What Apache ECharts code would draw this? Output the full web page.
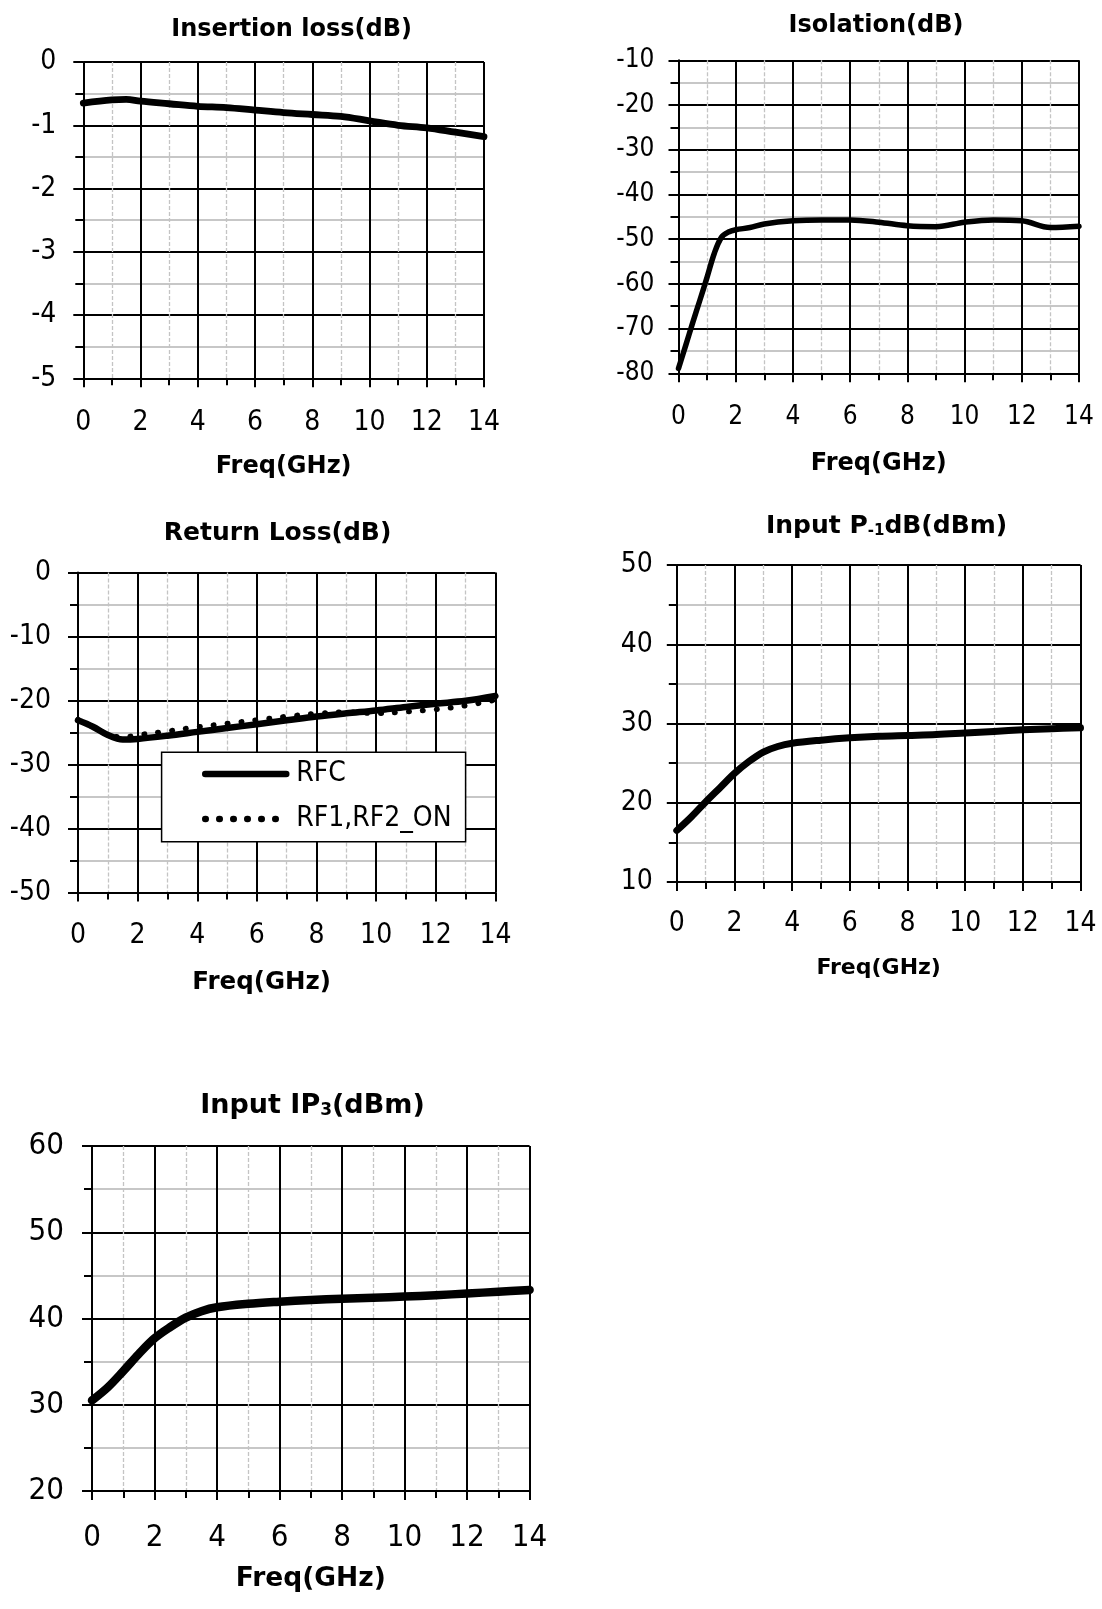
<!DOCTYPE html>
<html>
<head>
<meta charset="utf-8">
<script src="https://cdn.jsdelivr.net/npm/echarts@6/dist/echarts.min.js"></script>
<style>
html,body{margin:0;padding:0;background:#fff;}
#c{width:1102px;height:1609px;}
</style>
</head>
<body>
<div id="c"></div>
<script>
// ---------------- data ----------------
const freqTicks = [0, 2, 4, 6, 8, 10, 12, 14];

const ilTicks = [-5, -4, -3, -2, -1, 0];
const ilFreq = [0, 1, 1.5, 2, 3, 4, 5, 6, 7, 8, 9, 10, 11, 12, 13, 14];
const insertionLoss = [-0.65, -0.60, -0.59, -0.62, -0.66, -0.70, -0.72, -0.76, -0.80, -0.83, -0.86, -0.93, -1.00, -1.04, -1.11, -1.18];

const isoTicks = [-80, -70, -60, -50, -40, -30, -20, -10];
const isoFreq = [0, 0.25, 0.5, 0.75, 1, 1.25, 1.5, 1.75, 2, 2.5, 3, 4, 5, 6, 7, 8, 9, 10, 11, 12, 13, 14];
const isolation = [-78.9, -73.8, -68.6, -63.6, -58.5, -53.2, -49.6, -48.4, -47.9, -47.4, -46.6, -45.9, -45.7, -45.7, -46.2, -47.0, -47.2, -46.2, -45.7, -45.9, -47.4, -47.1];

const rlTicks = [-50, -40, -30, -20, -10, 0];
const rlFreq = [0, 0.5, 1, 1.5, 2, 3, 4, 5, 6, 7, 8, 9, 10, 11, 12, 13, 14];
const rlRFC = [-23.1, -24.1, -25.4, -26.1, -26.0, -25.5, -24.9, -24.3, -23.7, -23.1, -22.5, -22.0, -21.55, -21.0, -20.5, -20.05, -19.3];
const rlRFon = [-23.0, -24.1, -25.3, -25.75, -25.4, -24.8, -24.15, -23.6, -23.05, -22.5, -22.05, -21.8, -22.0, -21.75, -21.4, -20.8, -19.9];
const rlNames = ['RFC', 'RF1,RF2_ON'];

const p1Ticks = [10, 20, 30, 40, 50];
const p1Freq = [0, 0.5, 1, 1.5, 2, 2.5, 3, 3.5, 4, 5, 6, 7, 8, 9, 10, 11, 12, 13, 14];
const p1dB = [16.5, 18.2, 20.1, 21.9, 23.7, 25.2, 26.4, 27.1, 27.5, 27.9, 28.2, 28.4, 28.5, 28.6, 28.8, 29.0, 29.2, 29.35, 29.45];

const ip3Ticks = [20, 30, 40, 50, 60];
const ip3Freq = [0, 0.5, 1, 1.5, 2, 2.5, 3, 3.5, 4, 5, 6, 7, 8, 9, 10, 11, 12, 13, 14];
const ip3 = [30.5, 32.0, 33.9, 35.9, 37.7, 39.0, 40.1, 40.85, 41.3, 41.7, 41.95, 42.15, 42.3, 42.4, 42.55, 42.7, 42.9, 43.1, 43.3];

const titles = ['Insertion loss(dB)', 'Isolation(dB)', 'Return Loss(dB)', 'Input P-1dB(dBm)', 'Input IP3(dBm)'];
const xName = 'Freq(GHz)';

// ---------------- helpers ----------------
const BLACK = '#000';
const LABEL_FONT = '"Liberation Sans Narrow", "DejaVu Sans Condensed", sans-serif';
const TITLE_FONT = 'DejaVu Sans';

function pairs(xs, ys) { return xs.map((x, i) => [x, ys[i]]); }

function xAxisCfg(gi, o) {
  return {
    type: 'value', gridIndex: gi,
    min: freqTicks[0], max: freqTicks[freqTicks.length - 1], interval: freqTicks[1] - freqTicks[0],
    name: xName, nameLocation: 'middle', nameGap: o.nameGap,
    nameTextStyle: { color: BLACK, fontFamily: TITLE_FONT, fontWeight: 'bold', fontSize: o.nameSize, padding: o.namePad || 0 },
    axisLine: { show: true, onZero: false, lineStyle: { color: BLACK, width: 2 } },
    axisTick: { show: true, inside: false, length: 9, lineStyle: { color: BLACK, width: 2 } },
    minorTick: { show: true, splitNumber: 2, length: 7, lineStyle: { color: BLACK, width: 2 } },
    splitLine: { show: true, lineStyle: { color: BLACK, width: 2 } },
    minorSplitLine: { show: true, lineStyle: { color: '#c4c4c4', width: 1.3, type: [4, 2] } },
    axisLabel: { color: BLACK, fontFamily: LABEL_FONT, fontSize: o.labelSize, margin: o.labelMargin }
  };
}
function yAxisCfg(gi, ticks, o) {
  return {
    type: 'value', gridIndex: gi,
    min: ticks[0], max: ticks[ticks.length - 1], interval: ticks[1] - ticks[0],
    axisLine: { show: true, onZero: false, lineStyle: { color: BLACK, width: 2 } },
    axisTick: { show: true, inside: false, length: 10, lineStyle: { color: BLACK, width: 2 } },
    minorTick: { show: true, splitNumber: 2, length: 8, lineStyle: { color: BLACK, width: 2 } },
    splitLine: { show: true, lineStyle: { color: BLACK, width: 2 } },
    minorSplitLine: { show: true, lineStyle: { color: '#b5b5b5', width: 1.5 } },
    axisLabel: { color: BLACK, fontFamily: LABEL_FONT, fontSize: o.labelSize, margin: o.labelMargin }
  };
}
function lineSeries(name, gi, xs, ys, width, extra) {
  return Object.assign({
    name: name, type: 'line', xAxisIndex: gi, yAxisIndex: gi,
    data: pairs(xs, ys), symbol: 'none', showSymbol: false, smooth: 0.35,
    itemStyle: { color: BLACK },
    lineStyle: { color: BLACK, width: width, cap: 'round', join: 'round' },
    z: 5, animation: false
  }, extra || {});
}
function titleText(x, y, text, size, rich) {
  const st = { text: text, fill: BLACK, font: 'bold ' + size + 'px "' + TITLE_FONT + '"',
    align: 'center', verticalAlign: 'middle', textAlign: 'center', textVerticalAlign: 'middle' };
  if (rich) st.rich = rich;
  return { type: 'text', x: x, y: y, z: 100, style: st };
}

// ---------------- chart ----------------
const chart = echarts.init(document.getElementById('c'), null, { renderer: 'canvas', width: 1102, height: 1609 });

const option = {
  backgroundColor: '#fff',
  animation: false,
  grid: [
    { left: 83.3, top: 62, width: 400.7, height: 316.3 },
    { left: 678.5, top: 60.3, width: 400.5, height: 313 },
    { left: 78, top: 572.5, width: 417.4, height: 320 },
    { left: 676.8, top: 565, width: 403.7, height: 317 },
    { left: 92, top: 1146, width: 437.6, height: 345 }
  ],
  xAxis: [
    xAxisCfg(0, { labelSize: 28, labelMargin: 30, nameGap: 76, nameSize: 24 }),
    xAxisCfg(1, { labelSize: 26, labelMargin: 31, nameGap: 78, nameSize: 24 }),
    xAxisCfg(2, { labelSize: 28, labelMargin: 29, nameGap: 78, nameSize: 24.5, namePad: [0, 50, 0, 0] }),
    xAxisCfg(3, { labelSize: 28, labelMargin: 28, nameGap: 75, nameSize: 22 }),
    xAxisCfg(4, { labelSize: 31, labelMargin: 31, nameGap: 75, nameSize: 26.5 })
  ],
  yAxis: [
    yAxisCfg(0, ilTicks, { labelSize: 28, labelMargin: 27 }),
    yAxisCfg(1, isoTicks, { labelSize: 26, labelMargin: 24 }),
    yAxisCfg(2, rlTicks, { labelSize: 28, labelMargin: 27 }),
    yAxisCfg(3, p1Ticks, { labelSize: 28, labelMargin: 24 }),
    yAxisCfg(4, ip3Ticks, { labelSize: 31, labelMargin: 28 })
  ],
  legend: {
    show: true, orient: 'vertical', left: 202, top: 759,
    itemWidth: 81, itemHeight: 30, itemGap: 15, padding: 0,
    selectedMode: false, z: 60,
    data: rlNames,
    itemStyle: { opacity: 0, borderWidth: 0 },
    lineStyle: { width: 6.5 },
    textStyle: { color: BLACK, fontFamily: LABEL_FONT, fontSize: 28, lineHeight: 30, padding: [0, 0, 0, 5] }
  },
  series: [
    lineSeries('Insertion loss', 0, ilFreq, insertionLoss, 6.8),
    lineSeries('Isolation', 1, isoFreq, isolation, 5.5),
    lineSeries(rlNames[0], 2, rlFreq, rlRFC, 6.5),
    lineSeries(rlNames[1], 2, rlFreq, rlRFon, 5.5, { z: 6, lineStyle: { color: BLACK, width: 5.5, type: [0.5, 13.5], cap: 'round' } }),
    lineSeries('Input P-1dB', 3, p1Freq, p1dB, 7),
    lineSeries('Input IP3', 4, ip3Freq, ip3, 8.5)
  ],
  graphic: [
    titleText(291.6, 30, titles[0], 24),
    titleText(876, 26, titles[1], 24),
    titleText(277.6, 533.5, titles[2], 25),
    titleText(886.6, 526, '{a|Input P}{s|-1}{a|dB(dBm)}', 25, {
      a: { fontFamily: TITLE_FONT, fontWeight: 'bold', fontSize: 25, fill: BLACK, color: BLACK, verticalAlign: 'middle' },
      s: { fontFamily: TITLE_FONT, fontWeight: 'bold', fontSize: 15, fill: BLACK, color: BLACK, verticalAlign: 'bottom' }
    }),
    titleText(312.5, 1106, '{a|Input IP}{s|3}{a|(dBm)}', 27, {
      a: { fontFamily: TITLE_FONT, fontWeight: 'bold', fontSize: 27, fill: BLACK, color: BLACK, verticalAlign: 'middle' },
      s: { fontFamily: TITLE_FONT, fontWeight: 'bold', fontSize: 17, fill: BLACK, color: BLACK, verticalAlign: 'bottom' }
    }),
    { type: 'rect', z: 50, shape: { x: 161.6, y: 752.3, width: 304, height: 89.4 },
      style: { fill: '#fff', stroke: BLACK, lineWidth: 1.5 } }
  ]
};
chart.setOption(option);
</script>
</body>
</html>
